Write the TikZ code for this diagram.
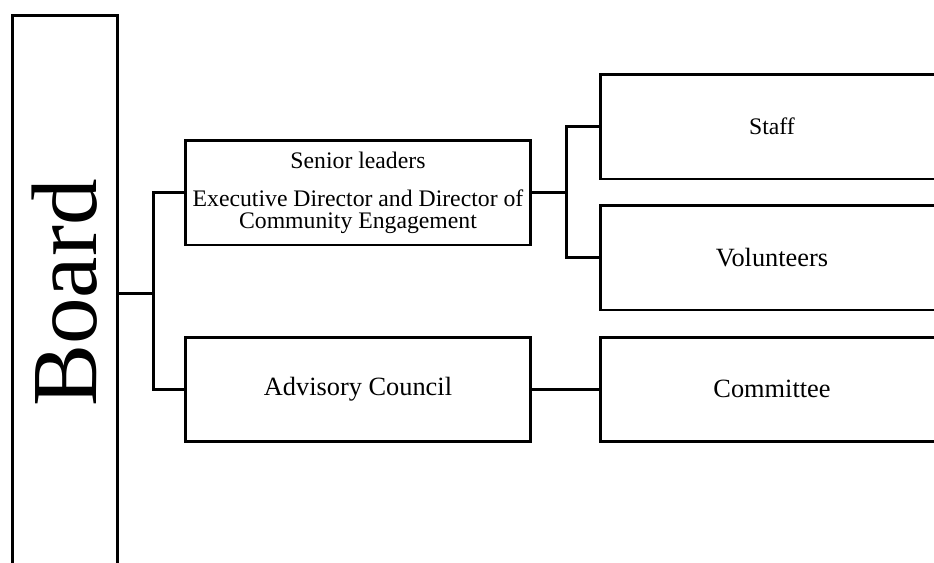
\documentclass[tikz,border=0pt]{standalone}
\usepackage{fontspec}
\setmainfont{Liberation Serif}
\usetikzlibrary{positioning}

\begin{document}
\begin{tikzpicture}[x=0.02cm,y=-0.02cm,
        line width=1.7pt,
        box/.style={draw=black, line width=1.7pt, rectangle, align=center, inner sep=0pt},
        bigtext/.style={font=\fontsize{15}{17}\selectfont},
        smalltext/.style={font=\fontsize{13.5}{12.5}\selectfont}]
        \useasboundingbox (0,0) rectangle (934,562);
        % left column
        \node [box, minimum width=2.12cm, minimum height=11.12cm] (board) at (65,293)
              {\rotatebox{90}{\fontsize{53}{60}\selectfont Board}};
        % middle column
        \node [box, smalltext, minimum width=6.9cm, minimum height=2.1cm] (senior) at (358,192.5)
              {Senior leaders\\[9pt]Executive Director and Director of\\Community Engagement};
        \node [box, bigtext, minimum width=6.9cm, minimum height=2.09cm] (advisory) at (358,389.3)
              {Advisory Council};
        % right column
        \node [box, smalltext, minimum width=6.88cm, minimum height=2.1cm] (staff) at (772,126.5) {Staff};
        \node [box, bigtext, minimum width=6.88cm, minimum height=2.1cm] (volunteers) at (772,257.5) {Volunteers};
        \node [box, bigtext, minimum width=6.88cm, minimum height=2.09cm] (committee) at (772,389.3) {Committee};
        % connectors
        \draw (board.east) -- ++(34,0) coordinate (hub1);
        \draw (senior.west) -| (hub1) |- (advisory.west);
        \draw (senior.east) -- ++(35,0) coordinate (hub2);
        \draw (staff.west) -| (hub2) |- (volunteers.west);
        \draw (advisory.east) -- (committee.west);
\end{tikzpicture}
\end{document}
